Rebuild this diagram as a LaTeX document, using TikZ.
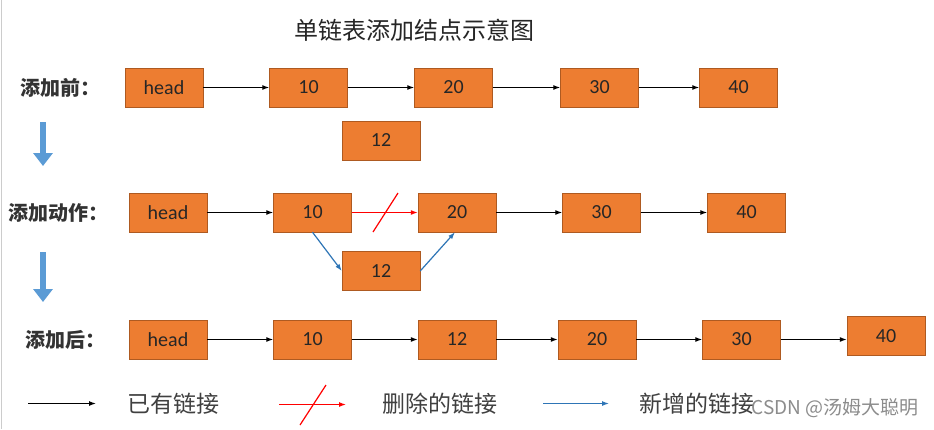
\documentclass[tikz,border=0pt]{standalone}
\usepackage{fontspec}
\setmainfont{Carlito}
\newfontfamily\cjk{Noto Sans CJK SC}
\usetikzlibrary{arrows.meta}
\definecolor{boxfill}{HTML}{ED7D31}
\definecolor{boxline}{HTML}{AE5A21}
\definecolor{bluearr}{HTML}{5B9BD5}
\definecolor{linkblue}{HTML}{2E75B6}
\tikzset{
  nd/.style={draw=boxline, fill=boxfill, minimum width=78pt, minimum height=39pt, inner sep=0pt, font=\fontsize{20}{22}\selectfont, text=black!85},
  lnk/.style={-{Latex[length=7pt,width=5pt]}, line width=1.2pt, black},
  dellnk/.style={-{Latex[length=7pt,width=5pt]}, line width=1.2pt, red},
  newlnk/.style={-{Latex[length=7pt,width=5pt]}, line width=1.2pt, linkblue},
  rowlabel/.style={font=\cjk\fontsize{20}{22}\selectfont\bfseries, text=black!80},
  legtext/.style={font=\cjk\fontsize{23}{25}\selectfont, text=black!75, anchor=west},
  bigarr/.style={-{Triangle[length=13pt,width=19pt]}, line width=6pt, bluearr}
}
\begin{document}
\begin{tikzpicture}[x=1pt,y=-1pt]
\useasboundingbox (0,0) rectangle (934,429);
\fill[white] (0,0) rectangle (934,429);
\draw[black!20, line width=1pt] (1,0) -- (1,429);
% title
\node[font=\cjk\fontsize{24}{26}\selectfont, text=black!85] (title) at (414,30) {单链表添加结点示意图};
% row 1
\node[rowlabel, anchor=west] (l1) at (17,88) {添加前：};
\node[nd] (a0) at (164,87.5) {head};
\node[nd] (a1) at (308.5,87.5) {10};
\node[nd] (a2) at (453.5,87.5) {20};
\node[nd] (a3) at (599.5,87.5) {30};
\node[nd] (a4) at (738.5,87.5) {40};
\node[nd] (anew) at (381,140.5) {12};
\draw[lnk] (a0) -- (a1);
\draw[lnk] (a1) -- (a2);
\draw[lnk] (a2) -- (a3);
\draw[lnk] (a3) -- (a4);
% big arrows
\coordinate (d1s) at (43,122); \coordinate (d1e) at (43,166);
\draw[bigarr] (d1s) -- (d1e);
\coordinate (d2s) at (43,252); \coordinate (d2e) at (43,302);
\draw[bigarr] (d2s) -- (d2e);
% row 2
\node[rowlabel, anchor=west] (l2) at (5,213) {添加动作：};
\node[nd] (b0) at (168,212.5) {head};
\node[nd] (b1) at (312.5,212.5) {10};
\node[nd] (b2) at (457,212.5) {20};
\node[nd] (b3) at (601.5,212.5) {30};
\node[nd] (b4) at (746.5,212.5) {40};
\node[nd] (bnew) at (381,271) {12};
\draw[lnk] (b0) -- (b1);
\draw[dellnk] (b1) -- (b2);
\coordinate (s1a) at (373,232); \coordinate (s1b) at (398,193);
\draw[red, line width=1.2pt] (s1a) -- (s1b);
\draw[lnk] (b2) -- (b3);
\draw[lnk] (b3) -- (b4);
\draw[newlnk] (b1.south) -- (bnew.west);
\draw[newlnk] (bnew.east) -- ([xshift=-2pt]b2.south);
% row 3
\node[rowlabel, anchor=west] (l3) at (22,340) {添加后：};
\node[nd] (c0) at (168,339.5) {head};
\node[nd] (c1) at (312.5,339.5) {10};
\node[nd] (c2) at (457,339.5) {12};
\node[nd] (c3) at (597,339.5) {20};
\node[nd] (c4) at (741.5,339.5) {30};
\node[nd] (c5) at (886,336) {40};
\draw[lnk] (c0) -- (c1);
\draw[lnk] (c1) -- (c2);
\draw[lnk] (c2) -- (c3);
\draw[lnk] (c3) -- (c4);
\draw[lnk] (c4.east) -- (c4.east -| c5.west);
% legend
\coordinate (k1a) at (28,403.5); \coordinate (k1b) at (96,403.5);
\draw[lnk] (k1a) -- (k1b);
\node[legtext] (t1) at (124,404) {已有链接};
\coordinate (k2a) at (279,404.5); \coordinate (k2b) at (346,404.5);
\draw[dellnk] (k2a) -- (k2b);
\coordinate (s2a) at (300,425); \coordinate (s2b) at (326,385);
\draw[red, line width=1.2pt] (s2a) -- (s2b);
\node[legtext] (t2) at (379,404) {删除的链接};
\coordinate (k3a) at (543,403.5); \coordinate (k3b) at (609,403.5);
\draw[newlnk] (k3a) -- (k3b);
\node[legtext] (t3) at (636,404) {新增的链接};
\node[font=\cjk\fontsize{19}{21}\selectfont, text=black!45, anchor=east] (wm) at (922,408) {CSDN @汤姆大聪明};
\end{tikzpicture}
\end{document}
